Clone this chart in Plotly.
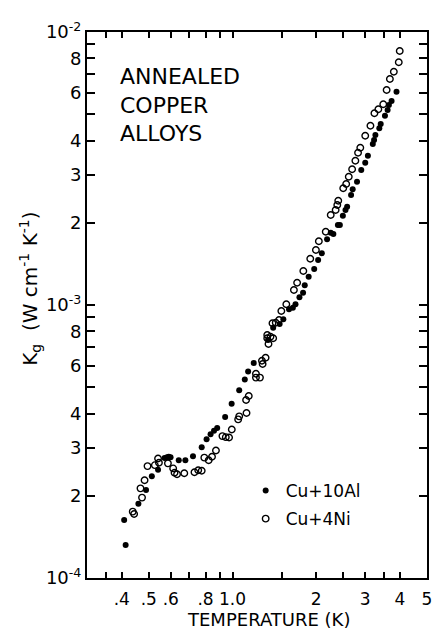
import plotly.graph_objects as go

# Cu + 10 Al (filled circles)
al_T = [0.408, 0.413, 0.459, 0.489, 0.513, 0.540, 0.570, 0.582, 0.590, 0.599,
        0.641, 0.677, 0.721, 0.775, 0.807, 0.834, 0.858, 0.881, 0.941, 0.993,
        1.057, 1.107, 1.138, 1.192, 1.342, 1.400, 1.477, 1.523, 1.596, 1.648,
        1.684, 1.740, 1.793, 1.818, 1.878, 1.966, 2.031, 2.094, 2.187, 2.254,
        2.304, 2.392, 2.431, 2.492, 2.547, 2.582, 2.668, 2.703, 2.802, 2.902,
        2.999, 3.066, 3.193, 3.227, 3.262, 3.370, 3.409, 3.531, 3.609, 3.648,
        3.730, 3.885]
al_K = [1.63e-4, 1.32e-4, 1.87e-4, 2.10e-4, 2.36e-4, 2.49e-4, 2.75e-4, 2.77e-4, 2.78e-4, 2.77e-4,
        2.70e-4, 2.70e-4, 2.79e-4, 3.01e-4, 3.22e-4, 3.36e-4, 3.46e-4, 3.54e-4, 3.89e-4, 4.35e-4,
        4.87e-4, 5.33e-4, 5.71e-4, 6.13e-4, 7.45e-4, 8.26e-4, 8.52e-4, 8.86e-4, 9.64e-4, 9.77e-4,
        1.006e-3, 1.067e-3, 1.109e-3, 1.181e-3, 1.270e-3, 1.355e-3, 1.462e-3, 1.547e-3, 1.740e-3, 1.839e-3,
        1.820e-3, 1.963e-3, 1.963e-3, 2.124e-3, 2.228e-3, 2.291e-3, 2.529e-3, 2.653e-3, 2.829e-3, 3.122e-3,
        3.320e-3, 3.522e-3, 3.888e-3, 4.022e-3, 4.195e-3, 4.439e-3, 4.603e-3, 4.935e-3, 5.179e-3, 5.402e-3,
        5.588e-3, 6.043e-3]

# Cu + 4 Ni (open circles)
ni_T = [0.438, 0.443, 0.467, 0.473, 0.483, 0.495, 0.526, 0.540, 0.544, 0.586,
        0.612, 0.619, 0.632, 0.671, 0.730, 0.753, 0.775, 0.792, 0.821, 0.844,
        0.872, 0.920, 0.946, 0.972, 0.994, 1.048, 1.057, 1.123, 1.119, 1.144,
        1.214, 1.214, 1.255, 1.276, 1.283, 1.315, 1.333, 1.333, 1.369, 1.400,
        1.347, 1.392, 1.430, 1.470, 1.498, 1.561, 1.662, 1.707, 1.797, 1.903,
        1.994, 2.043, 2.163, 2.254, 2.348, 2.380, 2.399, 2.500, 2.562, 2.617,
        2.691, 2.764, 2.826, 2.879, 2.999, 3.131, 3.236, 3.343, 3.482, 3.580,
        3.678, 3.800, 3.958, 3.990]
ni_K = [1.75e-4, 1.715e-4, 2.13e-4, 1.97e-4, 2.28e-4, 2.57e-4, 2.59e-4, 2.74e-4, 2.645e-4, 2.63e-4,
        2.52e-4, 2.43e-4, 2.40e-4, 2.42e-4, 2.44e-4, 2.48e-4, 2.47e-4, 2.76e-4, 2.70e-4, 2.78e-4,
        2.93e-4, 3.31e-4, 3.28e-4, 3.27e-4, 3.50e-4, 3.81e-4, 3.91e-4, 4.02e-4, 4.49e-4, 4.64e-4,
        5.42e-4, 5.60e-4, 5.42e-4, 6.25e-4, 6.08e-4, 6.41e-4, 7.76e-4, 7.55e-4, 7.65e-4, 7.55e-4,
        7.20e-4, 8.57e-4, 8.61e-4, 8.81e-4, 9.51e-4, 1.006e-3, 1.135e-3, 1.207e-3, 1.332e-3, 1.478e-3,
        1.591e-3, 1.711e-3, 1.855e-3, 2.137e-3, 2.228e-3, 2.324e-3, 2.410e-3, 2.676e-3, 2.774e-3, 2.951e-3,
        3.141e-3, 3.377e-3, 3.612e-3, 3.768e-3, 4.17e-3, 4.537e-3, 5.037e-3, 5.21e-3, 5.434e-3, 6.131e-3,
        6.727e-3, 7.155e-3, 7.745e-3, 8.52e-3]

x_tickvals = [0.35, 0.4, 0.5, 0.6, 0.7, 0.8, 0.9, 1.0, 1.5, 2, 2.5, 3, 3.5, 4, 5]
x_ticktext = ["", ".4", ".5", ".6", "", ".8", "", "1.0", "", "2", "", "3", "", "4", "5"]

y_tickvals = []
y_ticktext = []
for dec, lab in [(1e-4, "10<sup>-4</sup>"), (1e-3, "10<sup>-3</sup>")]:
    y_tickvals.append(dec)
    y_ticktext.append(lab)
    for m in range(2, 10):
        y_tickvals.append(m * dec)
        y_ticktext.append(str(m) if m in (2, 3, 4, 6, 8) else "")
y_tickvals.append(1e-2)
y_ticktext.append("10<sup>-2</sup>")

FONT = "DejaVu Sans"

fig = go.Figure()
fig.add_trace(go.Scatter(
    x=al_T, y=al_K, mode="markers", name="Cu+10Al", legendgroup="a",
    marker=dict(symbol="circle", size=6, color="black"),
))
fig.add_trace(go.Scatter(
    x=ni_T, y=ni_K, mode="markers", name="Cu+4Ni", legendgroup="b",
    marker=dict(symbol="circle-open", size=6.5, color="black", line=dict(width=1.4, color="black")),
))

axis_common = dict(
    type="log", showline=True, linecolor="black", linewidth=2, mirror="ticks",
    ticks="inside", tickcolor="black", tickwidth=1.5, showgrid=False, zeroline=False,
    tickmode="array",
)

fig.update_xaxes(
    **axis_common, range=[-0.5229, 0.69897], tickvals=x_tickvals, ticktext=x_ticktext,
    ticklen=6, tickfont=dict(family=FONT, size=17, color="black"), ticklabelstandoff=5,
)
fig.update_yaxes(
    **axis_common, range=[-4, -2], tickvals=y_tickvals, ticktext=y_ticktext,
    ticklen=8, tickfont=dict(family=FONT, size=18, color="black"),
)

fig.add_annotation(
    text="ANNEALED<br>COPPER<br>ALLOYS", xref="paper", yref="paper",
    x=(118 - 87) / 345, y=(578 - 62) / 546, xanchor="left", yanchor="top", align="left",
    showarrow=False, font=dict(family=FONT, size=22, color="black"),
)
fig.add_annotation(
    text="TEMPERATURE (K)", xref="paper", yref="paper",
    x=(271 - 87) / 345, y=(578 - 619) / 546, xanchor="center", yanchor="middle",
    showarrow=False, font=dict(family=FONT, size=18, color="black"),
)
fig.add_annotation(
    text="K<sub>g</sub>  (W cm<sup>-1</sup> K<sup>-1</sup>)", xref="paper", yref="paper",
    x=(29 - 87) / 345, y=(578 - 289) / 546, xanchor="center", yanchor="middle", textangle=-90,
    showarrow=False, font=dict(family=FONT, size=20, color="black"),
)

fig.update_layout(
    width=438, height=630,
    margin=dict(l=87, r=6, t=32, b=52),
    plot_bgcolor="white", paper_bgcolor="white",
    showlegend=True,
    legend=dict(
        x=(248 - 87) / 345, y=(578 - 473) / 546, xanchor="left", yanchor="top",
        bgcolor="rgba(0,0,0,0)", font=dict(family=FONT, size=17, color="black"),
        traceorder="grouped", tracegroupgap=3, itemwidth=30,
    ),
)

fig.write_html(
    "out.html",
    config={"displayModeBar": False},
    post_script="document.body.style.margin='0';document.body.style.padding='0';",
)
